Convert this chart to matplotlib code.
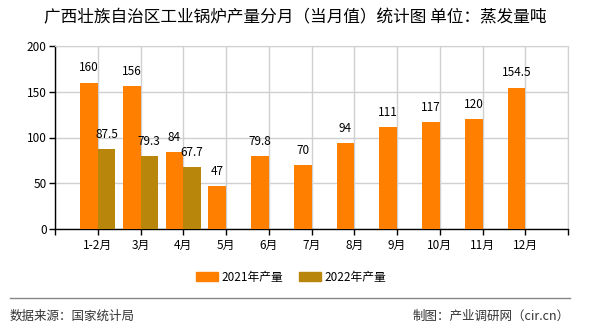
import matplotlib
matplotlib.use('Agg')
import matplotlib.pyplot as plt
from matplotlib.patches import Patch
from matplotlib.lines import Line2D

plt.rcParams['font.family'] = ['Noto Sans CJK SC', 'DejaVu Sans']

months = ['1-2月', '3月', '4月', '5月', '6月', '7月', '8月', '9月', '10月', '11月', '12月']
output_2021 = [160, 156, 84, 47, 79.8, 70, 94, 111, 117, 120, 154.5]
output_2022 = [87.5, 79.3, 67.7]
labels_2021 = ['160', '156', '84', '47', '79.8', '70', '94', '111', '117', '120', '154.5']
labels_2022 = ['87.5', '79.3', '67.7']

c2021 = '#FF8000'
c2022 = '#B8860B'
w = 0.41

fig = plt.figure(figsize=(5.9, 3.3), dpi=100)
ax = fig.add_axes([55 / 590, 1 - 229 / 330, 513 / 590, 183 / 330])

x1 = [i + 1 for i in range(len(months))]
x2 = [i + 1 for i in range(len(output_2022))]
# 2021 bars left of the tick, 2022 bars right of it
ax.bar([x - w / 2 for x in x1], output_2021, width=w, color=c2021, zorder=3)
ax.bar([x + w / 2 for x in x2], output_2022, width=w, color=c2022, zorder=3)

for xi, v, t in zip(x1, output_2021, labels_2021):
    ax.annotate(t, xy=(xi - w / 2, v), xytext=(0, 6), textcoords='offset points',
                ha='center', va='bottom', fontsize=8.5, zorder=4)
for xi, v, t in zip(x2, output_2022, labels_2022):
    ax.annotate(t, xy=(xi + w / 2, v), xytext=(0, 6), textcoords='offset points',
                ha='center', va='bottom', fontsize=8.5, zorder=4)

ax.set_xlim(0, 12)
ax.set_ylim(0, 200)
ax.set_xticks(range(13))
ax.set_xticklabels([''] + months + [''], fontsize=8.5)
ax.set_yticks([0, 50, 100, 150, 200])
ax.tick_params(axis='y', labelsize=8.5, length=4, width=1, pad=2)
ax.tick_params(axis='x', length=4, width=1, pad=3)
ax.grid(True, color='#d0d0d0', linewidth=1, zorder=0)
for s in ['top', 'right']:
    ax.spines[s].set_color('#d0d0d0')
for s in ['left', 'bottom']:
    ax.spines[s].set_color('black')
    ax.spines[s].set_linewidth(1)

handles = [Patch(color=c2021), Patch(color=c2022)]
fig.legend(handles, ['2021年产量', '2022年产量'], loc='center', bbox_to_anchor=(291 / 590, 1 - 277 / 330),
           ncol=2, frameon=False, fontsize=8.5, handlelength=1.86, handleheight=0.76,
           handletextpad=0.3, columnspacing=1.35)

fig.text(295 / 590, 1 - 18 / 330, '广西壮族自治区工业锅炉产量分月（当月值）统计图 单位：蒸发量吨',
         ha='center', va='center', fontsize=12)
fig.add_artist(Line2D([10 / 590, 570 / 590], [1 - 298 / 330, 1 - 298 / 330],
                      color='#888888', linewidth=1))
fig.text(10 / 590, 1 - 316 / 330, '数据来源：国家统计局', ha='left', va='center', fontsize=9, color='#333333')
fig.text(570 / 590, 1 - 316 / 330, '制图：产业调研网（cir.cn）', ha='right', va='center', fontsize=9, color='#333333')

fig.savefig('out.png', dpi=100)
